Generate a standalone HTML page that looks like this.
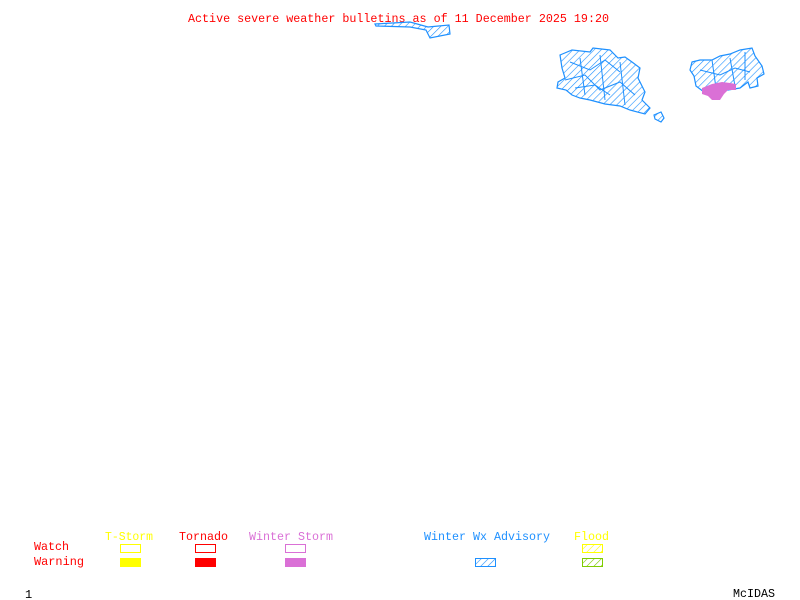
<!DOCTYPE html>
<html><head><meta charset="utf-8"><style>
html,body{margin:0;padding:0;background:#fff;width:800px;height:600px;overflow:hidden}
svg text{font-family:"Liberation Mono","DejaVu Sans Mono",monospace;font-size:12px}
</style></head><body>
<svg width="800" height="600" viewBox="0 0 800 600" xmlns="http://www.w3.org/2000/svg">
<defs>
<pattern id="hb" patternUnits="userSpaceOnUse" width="5" height="5" patternTransform="rotate(45)">
<line x1="0" y1="0" x2="0" y2="5" stroke="#1e90ff" stroke-width="1.2"/></pattern>
<pattern id="hy" patternUnits="userSpaceOnUse" width="5" height="5" patternTransform="rotate(45)">
<line x1="0" y1="0" x2="0" y2="5" stroke="#ffff00" stroke-width="1.2"/></pattern>
<pattern id="hg" patternUnits="userSpaceOnUse" width="5" height="5" patternTransform="rotate(45)">
<line x1="0" y1="0" x2="0" y2="5" stroke="#7fcc00" stroke-width="1.2"/></pattern>
</defs>
<text x="188" y="22" fill="#ff0000" textLength="421" lengthAdjust="spacingAndGlyphs">Active severe weather bulletins as of 11 December 2025 19:20</text>
<g fill="url(#hb)" stroke="#1e90ff" stroke-width="1.2">
<polygon points="375,24 410,22 428,27 449,25 450,34 430,38 426,30 410,27 376,26"/>
<polygon points="560,55 572,50 590,52 593,48 610,50 618,58 625,57 632,62 640,68 638,78 645,92 642,100 650,108 645,114 630,110 620,106 605,104 590,100 580,98 572,95 566,90 557,88 558,82 565,78 562,68"/>
<polygon points="654,115 661,112 664,118 661,122 655,119"/>
<polygon points="692,62 700,60 712,60 720,56 730,54 740,50 752,48 755,56 762,66 764,74 757,78 758,86 750,88 748,82 740,88 728,90 716,90 704,92 696,86 694,76 690,70"/>
</g>
<g fill="none" stroke="#1e90ff" stroke-width="1">
<path d="M570,62 L590,70 L605,60 L620,72 M565,80 L585,75 L600,90 L620,82 L635,95 M580,58 L585,95 M600,55 L605,100 M620,62 L625,105 M575,88 L595,85 L610,95 M700,70 L720,75 L735,68 L750,72 M712,60 L716,88 M730,58 L735,86 M745,52 L745,80"/>
</g>
<polygon points="702,88 712,84 722,82 730,83 736,84 736,90 728,90 724,94 720,100 712,100 708,96 702,94" fill="#da70d6"/>
<g lengthAdjust="spacingAndGlyphs">
<text x="105" y="540" fill="#ffff00" textLength="48" lengthAdjust="spacingAndGlyphs">T-Storm</text>
<text x="179" y="540" fill="#ff0000" textLength="49" lengthAdjust="spacingAndGlyphs">Tornado</text>
<text x="249" y="540" fill="#da70d6" textLength="84" lengthAdjust="spacingAndGlyphs">Winter Storm</text>
<text x="424" y="540" fill="#1e90ff" textLength="126" lengthAdjust="spacingAndGlyphs">Winter Wx Advisory</text>
<text x="574" y="540" fill="#ffff00" textLength="35" lengthAdjust="spacingAndGlyphs">Flood</text>
<text x="34" y="550" fill="#ff0000" textLength="35" lengthAdjust="spacingAndGlyphs">Watch</text>
<text x="34" y="565" fill="#ff0000" textLength="50" lengthAdjust="spacingAndGlyphs">Warning</text>
</g>
<rect x="120.5" y="544.5" width="20" height="8" fill="none" stroke="#ffff00"/>
<rect x="195.5" y="544.5" width="20" height="8" fill="none" stroke="#ff0000"/>
<rect x="285.5" y="544.5" width="20" height="8" fill="none" stroke="#da70d6"/>
<rect x="582.5" y="544.5" width="20" height="8" fill="url(#hy)" stroke="#ffff00"/>
<rect x="120" y="558" width="21" height="9" fill="#ffff00"/>
<rect x="195" y="558" width="21" height="9" fill="#ff0000"/>
<rect x="285" y="558" width="21" height="9" fill="#da70d6"/>
<rect x="475.5" y="558.5" width="20" height="8" fill="url(#hb)" stroke="#1e90ff"/>
<rect x="582.5" y="558.5" width="20" height="8" fill="url(#hg)" stroke="#7fcc00"/>
<text x="25" y="598" fill="#000">1</text>
<text x="733" y="597" fill="#000" textLength="42" lengthAdjust="spacingAndGlyphs">McIDAS</text>
</svg>
</body></html>
